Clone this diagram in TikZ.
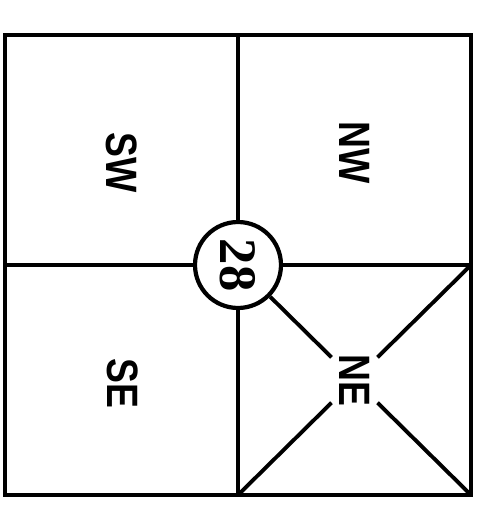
\documentclass[tikz,border=0pt]{standalone}
\usepackage{fontspec}
\newfontfamily\quarterfont[FakeStretch=0.85]{Liberation Sans}
\newfontfamily\numberfont{Liberation Serif}
\begin{document}
\begin{tikzpicture}[x=0.02cm,y=-0.02cm,
    quarter/.style={font=\quarterfont\bfseries\fontsize{25}{25}\selectfont, rotate=-90},
    line/.style={line width=2.2pt}]
    \useasboundingbox (0,0) rectangle (503,531);
    % Define node positions
    \coordinate (TL) at (5,35); \coordinate (TR) at (471,35);
    \coordinate (BL) at (5,495); \coordinate (BR) at (471,495);
    \coordinate (T) at (238,35); \coordinate (B) at (238,495);
    \coordinate (L) at (5,265); \coordinate (R) at (471,265);
    \node[circle, draw, line width=2.4pt, minimum size=1.72cm, inner sep=0pt,
        font=\numberfont\bfseries\fontsize{30}{30}\selectfont, rotate=-90] (C) at (238,265) {28};
    \node[quarter] (SW) at (122,163) {SW};
    \node[quarter] (NW) at (355,153) {NW};
    \node[quarter] (SE) at (123,383) {SE};
    \node[quarter, circle, minimum size=1.28cm, inner sep=0pt] (NE) at (354.5,380) {NE};

    % Draw frame and section lines
    \draw[line width=2.6pt] (TL) rectangle (BR);
    \draw[line] (C) -- (T);
    \draw[line] (C) -- (B);
    \draw[line] (C) -- (L);
    \draw[line] (C) -- (R);

    % Cross in the NE quarter
    \draw[line] (C) -- (NE);
    \draw[line] (NE) -- (BR);
    \draw[line] (R) -- (NE);
    \draw[line] (NE) -- (B);
\end{tikzpicture}
\end{document}
